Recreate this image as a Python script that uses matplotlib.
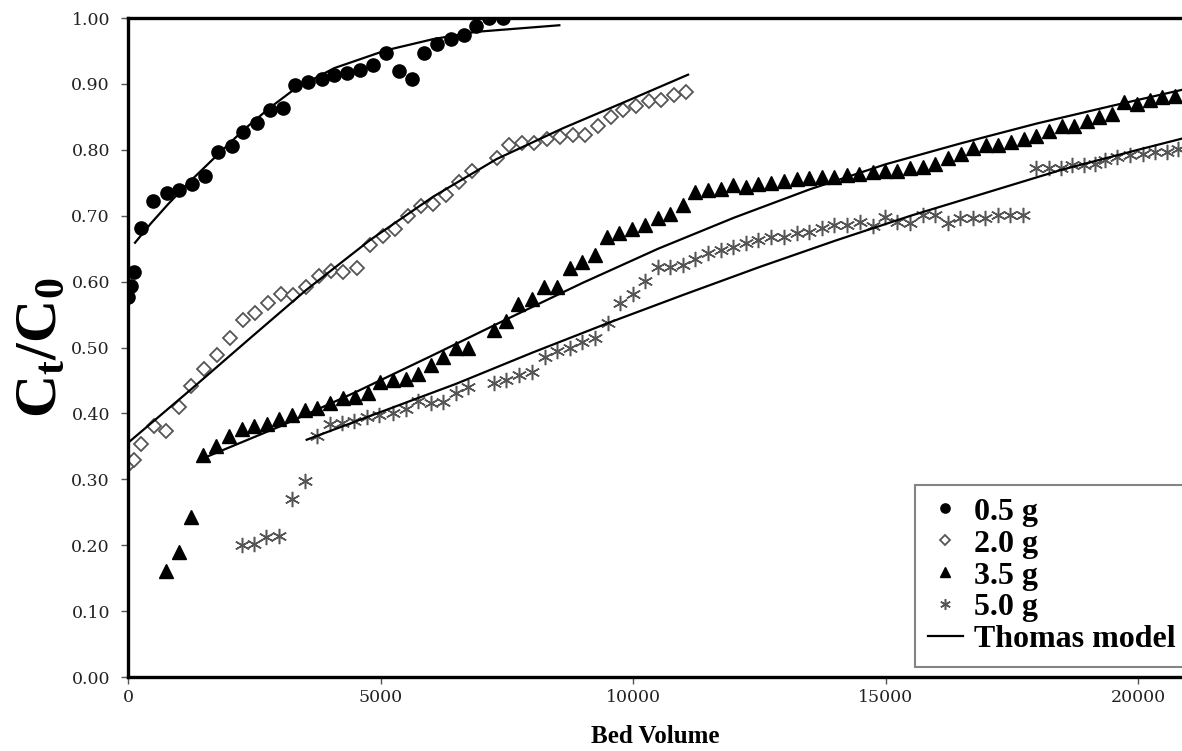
import matplotlib.pyplot as plt

plt.rcParams['font.family'] = 'Liberation Serif'
plt.rcParams['mathtext.fontset'] = 'custom'
plt.rcParams['mathtext.bf'] = 'Liberation Serif:bold'
plt.rcParams['mathtext.rm'] = 'Liberation Serif'

# naměřená data (Bed Volume, Ct/C0)
bv_05 = [0, 50, 125, 250, 500, 765, 1015, 1260, 1525, 1790, 2050, 2285, 2550, 2810,
         3060, 3315, 3570, 3835, 4085, 4335, 4600, 4860, 5110, 5365, 5630, 5860, 6125,
         6390, 6650, 6890, 7155, 7420]
ct_05 = [0.577, 0.594, 0.614, 0.681, 0.722, 0.734, 0.739, 0.748, 0.761, 0.796, 0.806,
         0.827, 0.841, 0.860, 0.864, 0.899, 0.903, 0.908, 0.914, 0.917, 0.921, 0.929,
         0.947, 0.920, 0.907, 0.947, 0.961, 0.968, 0.974, 0.988, 1.000, 1.000]

bv_20 = [40, 125, 251, 521, 752, 1016, 1241, 1511, 1756, 2020, 2271, 2515, 2766, 3024,
         3261, 3525, 3776, 4020, 4264, 4528, 4792, 5043, 5287, 5550, 5796, 6046, 6290,
         6554, 6805, 7300, 7544, 7795, 8045, 8290, 8554, 8805, 9049, 9313, 9557, 9807,
         10058, 10310, 10553, 10817, 11048]
ct_20 = [0.324, 0.330, 0.353, 0.381, 0.374, 0.410, 0.442, 0.468, 0.488, 0.515, 0.541,
         0.553, 0.567, 0.581, 0.580, 0.592, 0.609, 0.616, 0.615, 0.621, 0.656, 0.669,
         0.680, 0.700, 0.714, 0.718, 0.731, 0.751, 0.768, 0.788, 0.807, 0.810, 0.811,
         0.816, 0.820, 0.822, 0.823, 0.836, 0.850, 0.860, 0.866, 0.874, 0.876, 0.883,
         0.888]

bv_35 = [752, 1010, 1254, 1491, 1742, 2000, 2263, 2501, 2746, 2996, 3254, 3505, 3749,
         4000, 4251, 4495, 4746, 4990, 5253, 5498, 5748, 5994, 6231, 6494, 6738, 7247,
         7484, 7729, 7993, 8243, 8488, 8752, 8996, 9247, 9491, 9728, 9985, 10237, 10488,
         10732, 10983, 11227, 11478, 11735, 11985, 12230, 12480, 12731, 12989, 13240,
         13490, 13747, 13979, 14242, 14480, 14745, 14989, 15232, 15484, 15735, 15979,
         16230, 16487, 16737, 16981, 17232, 17477, 17741, 17978, 18242, 18487, 18731,
         18982, 19232, 19477, 19727, 19972, 20236, 20467, 20731]
ct_35 = [0.161, 0.189, 0.243, 0.337, 0.351, 0.365, 0.377, 0.381, 0.384, 0.392, 0.398,
         0.405, 0.408, 0.416, 0.424, 0.425, 0.431, 0.447, 0.450, 0.452, 0.460, 0.474,
         0.486, 0.500, 0.500, 0.527, 0.540, 0.566, 0.573, 0.592, 0.592, 0.620, 0.630,
         0.640, 0.668, 0.674, 0.680, 0.686, 0.696, 0.703, 0.716, 0.736, 0.739, 0.740,
         0.747, 0.744, 0.748, 0.749, 0.752, 0.756, 0.757, 0.758, 0.759, 0.762, 0.763,
         0.767, 0.768, 0.768, 0.772, 0.774, 0.779, 0.788, 0.794, 0.802, 0.807, 0.808,
         0.812, 0.817, 0.821, 0.829, 0.836, 0.836, 0.843, 0.850, 0.855, 0.872, 0.870,
         0.876, 0.880, 0.882]

bv_50 = [2251, 2495, 2732, 2996, 3241, 3505, 3736, 4000, 4231, 4481, 4726, 4976, 5253,
         5498, 5748, 5994, 6243, 6494, 6738, 7247, 7484, 7748, 7993, 8257, 8488, 8752,
         8996, 9247, 9497, 9742, 9993, 10237, 10488, 10732, 10983, 11227, 11478, 11735,
         11985, 12230, 12480, 12731, 12989, 13240, 13490, 13747, 13979, 14242, 14494,
         14745, 14989, 15232, 15484, 15735, 15979, 16230, 16474, 16725, 16969, 17220,
         17464, 17728, 17980, 18230, 18480, 18700, 18930, 19150, 19345, 19589, 19840,
         20091, 20335, 20579, 20797]
ct_50 = [0.200, 0.202, 0.213, 0.214, 0.270, 0.298, 0.365, 0.384, 0.386, 0.389, 0.394,
         0.398, 0.401, 0.406, 0.419, 0.416, 0.418, 0.431, 0.440, 0.446, 0.451, 0.458,
         0.463, 0.486, 0.494, 0.499, 0.509, 0.514, 0.537, 0.567, 0.581, 0.601, 0.622,
         0.622, 0.625, 0.634, 0.643, 0.648, 0.653, 0.658, 0.663, 0.668, 0.668, 0.673,
         0.676, 0.681, 0.686, 0.686, 0.691, 0.684, 0.698, 0.691, 0.689, 0.701, 0.701,
         0.689, 0.696, 0.696, 0.696, 0.701, 0.701, 0.701, 0.772, 0.772, 0.772, 0.777,
         0.777, 0.779, 0.784, 0.789, 0.792, 0.794, 0.797, 0.797, 0.801]

# Thomasův model
th_bv_05 = [139, 450, 800, 1200, 1700, 2300, 2812, 3314, 4086, 5109, 6046, 6891, 8541]
th_ct_05 = [0.659, 0.688, 0.718, 0.750, 0.787, 0.831, 0.864, 0.893, 0.924, 0.951,
            0.968, 0.979, 0.989]
th_bv_20 = [26, 1241, 2416, 3524, 4792, 6046, 7300, 8620, 9940, 11090]
th_ct_20 = [0.357, 0.436, 0.514, 0.587, 0.663, 0.729, 0.786, 0.833, 0.876, 0.914]
th_bv_35 = [1491, 3000, 4500, 6000, 7500, 9000, 10500, 12000, 13500, 15000, 16500,
            18000, 19500, 20870]
th_ct_35 = [0.332, 0.380, 0.432, 0.487, 0.543, 0.598, 0.650, 0.697, 0.740, 0.778,
            0.810, 0.840, 0.867, 0.891]
th_bv_50 = [3538, 5000, 6500, 8000, 9500, 11000, 12500, 14000, 15500, 17000, 18500,
            20000, 20870]
th_ct_50 = [0.360, 0.402, 0.445, 0.492, 0.537, 0.580, 0.622, 0.662, 0.700, 0.735,
            0.770, 0.800, 0.817]

fig = plt.figure(figsize=(11.82, 7.51), dpi=100)
ax = fig.add_axes([128 / 1182, 74 / 751, 1054 / 1182, 659 / 751])

star = (6, 2, 0)
ax.plot(bv_05, ct_05, 'o', color='black', ms=9.5, label='0.5 g')
ax.plot(bv_20, ct_20, 'D', mfc='white', mec='#555555', mew=1.3, ms=7, label='2.0 g')
ax.plot(bv_35, ct_35, '^', color='black', ms=9.5, label='3.5 g')
ax.plot(bv_50, ct_50, marker=star, ls='none', mec='#555555', mew=1.1, ms=11, label='5.0 g')

ax.plot(th_bv_05, th_ct_05, '-', color='black', lw=1.6, label='Thomas model')
ax.plot(th_bv_20, th_ct_20, '-', color='black', lw=1.6)
ax.plot(th_bv_35, th_ct_35, '-', color='black', lw=1.6)
ax.plot(th_bv_50, th_ct_50, '-', color='black', lw=1.6)

ax.set_xlim(0, 20870)
ax.set_ylim(0, 1.0)
ax.set_xticks([0, 5000, 10000, 15000, 20000])
ax.set_yticks([i / 10 for i in range(11)])
ax.set_yticklabels(['%.2f' % (i / 10) for i in range(11)])
ax.tick_params(color='#555555', length=5, width=1, labelcolor='#222222')
ax.tick_params(axis='y', pad=8)
for lab in ax.get_xticklabels() + ax.get_yticklabels():
    lab.set_family('DejaVu Serif')
    lab.set_fontsize(12.5)

for s in ['left', 'bottom', 'top']:
    ax.spines[s].set_linewidth(2.4)
ax.spines['right'].set_visible(False)

ax.set_xlabel('Bed Volume', fontsize=18, fontweight='bold', labelpad=14)
ax.set_ylabel(r'$\mathbf{C_t/C_0}$', fontsize=43, labelpad=2)

leg = ax.legend(loc='lower right', bbox_to_anchor=(1.006, 0.015),
                prop={'weight': 'bold', 'size': 23}, frameon=True, fancybox=False,
                markerscale=0.7, handlelength=1.1, handletextpad=0.35,
                labelspacing=0.08, borderpad=0.4, borderaxespad=0)
leg.get_frame().set_edgecolor('#666666')
leg.get_frame().set_linewidth(1.5)

fig.savefig('out.png', dpi=100)
